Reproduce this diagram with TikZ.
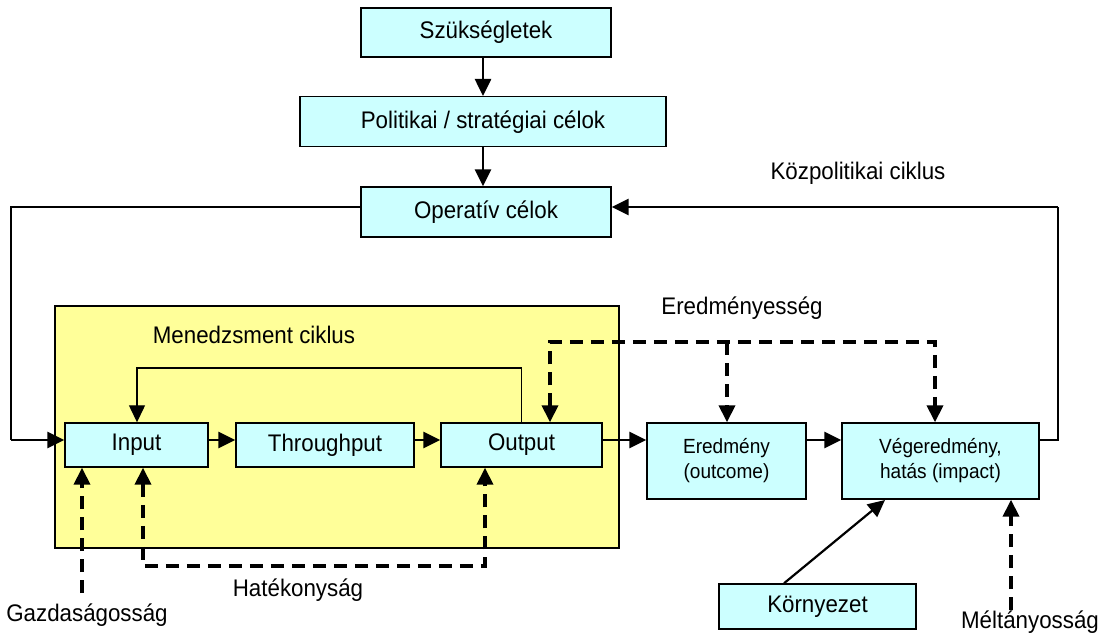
\documentclass[tikz,border=0pt]{standalone}
\usepackage{fontspec}
\setmainfont{Liberation Sans}[FakeStretch=0.93]
\usetikzlibrary{arrows.meta,calc}
\definecolor{boxcyan}{HTML}{CCFFFF}
\definecolor{mgmtyellow}{HTML}{FFFF99}
\tikzset{
  bx/.style={draw=black,line width=1.4pt,fill=boxcyan,inner sep=0pt,align=center,font=\fontsize{24}{27}\selectfont},
  smallbx/.style={bx,font=\fontsize{20.5}{25}\selectfont},
  lbl/.style={inner sep=0pt,font=\fontsize{24}{27}\selectfont},
  tri/.tip={Triangle[length=17pt,width=16pt]},
  tip/.style={-tri},
  thickarrow/.style={tip,line width=2.6pt},
  thinline/.style={line width=1.3pt},
  dashline/.style={line width=3.8pt,dash pattern=on 13pt off 8pt},
  dasharrow/.style={tip,dashline}
}
\begin{document}
\begin{tikzpicture}[x=1pt,y=-1pt]
\useasboundingbox (0,0) rectangle (1103,639);
% management area
\node[draw=black,line width=1.4pt,fill=mgmtyellow,minimum width=564pt,minimum height=242pt,inner sep=0pt] (mgmt) at (337,427) {};
\node[lbl] (mgmtlbl) at (254,335) {Menedzsment ciklus};
% top boxes
\node[bx,minimum width=250pt,minimum height=49pt] (szuk) at (486,32.5) {Szükségletek};
\node[bx,minimum width=366pt,minimum height=50pt] (pol) at (483,121.7) {Politikai / stratégiai célok};
\node[bx,minimum width=250pt,minimum height=50pt] (op) at (486,212) {Operatív célok};
% process boxes
\node[bx,minimum width=143pt,minimum height=44pt] (inp) at (136.5,445) {Input};
\node[bx,minimum width=178pt,minimum height=44pt] (thr) at (325,445) {Throughput};
\node[bx,minimum width=161pt,minimum height=44pt] (out) at (521.5,445) {Output};
\node[smallbx,minimum width=159pt,minimum height=76pt] (ered) at (726.5,461) {Eredmény\\(outcome)};
\node[smallbx,minimum width=197pt,minimum height=76pt] (veg) at (940.5,461) {Végeredmény,\\hatás (impact)};
\node[bx,minimum width=197pt,minimum height=45pt] (korny) at (817.5,606.5) {Környezet};
% labels
\node[lbl] (kozlbl) at (858,173) {Közpolitikai ciklus};
\node[lbl] (eredlbl) at (742,308) {Eredményesség};
\node[lbl] (hatlbl) at (298,590) {Hatékonyság};
\node[lbl] (gazdlbl) at (87,615) {Gazdaságosság};
\node[lbl] (meltlbl) at (1030,622) {Méltányosság};
% coordinates
\coordinate (leftx) at (11,0);
\coordinate (rightx) at (1058,0);
\coordinate (mgmttop) at (0,368);
\coordinate (eredtop) at (0,342);
\coordinate (hatbot) at (0,566);
\coordinate (gazdstart) at (82,593);
\coordinate (meltstart) at (1011,610);
% top arrows
\draw[thickarrow] (szuk.south -| 483,0) -- (pol.north -| 483,0);
\draw[thickarrow] (pol.south -| 483,0) -- (op.north -| 483,0);
% policy loop left
\draw[thinline] ([yshift=5pt]op.west) -| (leftx |- 0,440);
\draw[thickarrow] (leftx |- 0,440) -- ([yshift=5pt]inp.west);
% chain
\draw[thickarrow] ([yshift=5pt]inp.east) -- ([yshift=5pt]thr.west);
\draw[thickarrow] ([yshift=5pt]thr.east) -- ([yshift=5pt]out.west);
\draw[thickarrow] ([yshift=5pt]out.east) -- (ered.west |- 0,440);
\draw[thickarrow] (ered.east |- 0,440) -- (veg.west |- 0,440);
% management loop
\draw[thinline,tip] (out.north) |- (mgmttop -| 137,0) -- (inp.north -| 137,0);
% policy loop right
\draw[thinline] (veg.east |- 0,440) -| (rightx |- 0,207);
\draw[thickarrow] (rightx |- 0,207) -- ([yshift=5pt]op.east);
% effectiveness
\draw[dashline,tri-tri] (out.north -| 550,0) |- (eredtop -| 935,0) -- (veg.north -| 935,0);
\draw[dasharrow] (eredtop -| 727,0) -- (ered.north -| 727,0);
% efficiency
\draw[dashline,tri-tri] (inp.south -| 143,0) |- (hatbot -| 485,0) -- (out.south -| 485,0);
% economy
\draw[dasharrow] (gazdstart) -- (inp.south -| 82,0);
% environment
\draw[tip,line width=2.2pt] (korny.north -| 784,0) -- (885,500);
% equity
\draw[dasharrow] (meltstart) -- (veg.south -| 1011,0);
\end{tikzpicture}
\end{document}
